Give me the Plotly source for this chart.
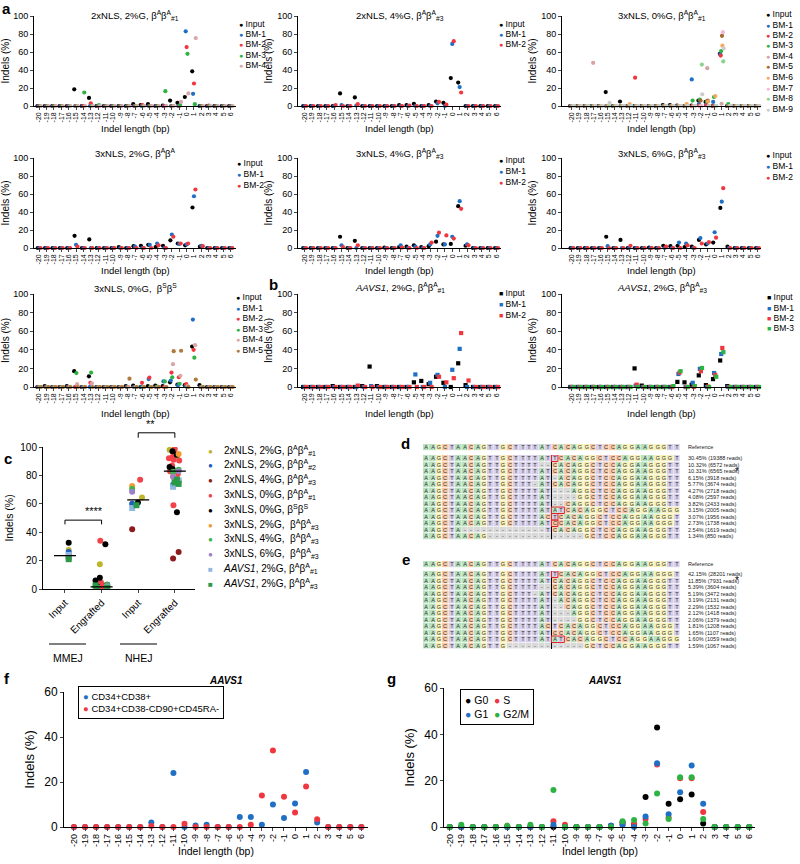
import plotly.graph_objects as go

W, H = 800, 864
FONT = "Liberation Sans, Arial, sans-serif"

INDEL = list(range(-20, 7))
INDEL_LABELS = [str(v) for v in INDEL]

# ---------------- panel a / b data (indel -20 ... 6) ----------------
A1_TITLE = "2xNLS, 2%G, β<sup>A</sup>β<sup>A</sup><sub>#1</sub>"
A1_NAMES = ["Input", "BM-1", "BM-2", "BM-3", "BM-4"]
A1_INPUT = [0,0,0,0,0,18.5,0,9,0,0,0,0,0,2,1,2,0,0.5,6,3.5,10,38.5,0,0,0,0,0]
A1_BM1 = [0,0,0,0,0,0,0,0,0,0,0,0,0,0,0,0,0,0,0,0,83,13.5,0,0,0,0,0]
A1_BM2 = [0,0,0,0,0,0,0,3,0,0,0,0,0,0,1,0,0,0,0,0,65.5,25,0,0.5,0,0,0]
A1_BM3 = [0,0,0,0,0,0,15,0,1,0,0,0,0,0,0,0,0,16.5,0,1,58,2,0,0,0,0,0]
A1_BM4 = [0,0,0,0,0,0,0,0,0,0,0,0,0,0,0,0,0,0,0,4.5,14,75.5,0,0,0,0,0]

A2_TITLE = "2xNLS, 4%G, β<sup>A</sup>β<sup>A</sup><sub>#3</sub>"
A2_NAMES = ["Input", "BM-1", "BM-2"]
A2_INPUT = [0,0,0,0,0,14,0,9.5,0,0,0,0,0,1,1,2.5,0,1,5,3.5,31,26,0,0,0,0,0]
A2_BM1 = [0,0,0,0,0,1,0,0.5,0,0,0,0,0,0,0,0,0,0,3,0,69,21,0,0,0,0,0]
A2_BM2 = [0,0,0,0,1,0,0,2,0,0,0,0,0,0,0.5,0,0,0,4.5,1.5,72,15,0,0,0,0,0]

A3_TITLE = "3xNLS, 0%G, β<sup>A</sup>β<sup>A</sup><sub>#1</sub>"
A3_NAMES = ["Input", "BM-1", "BM-2", "BM-3", "BM-4", "BM-5", "BM-6", "BM-7", "BM-8", "BM-9"]
A3_INPUT = [0,0,0,0,0,15.5,0,5,0,0,0,0,0,1,1,0.5,0,0.5,6,4.5,0,58,0,0,0,0,0]
A3_BM1 = [0,0,0,0,0,0,0,0,0,0,0,0,0,0,0,0,0,29.5,2,1,4.5,57.5,0,0,0,0,0]
A3_BM2 = [0,0,0,0,0,0,0,0,0,31.5,0,0,0,0,0,0,0,0,0.5,1,0,56,0,0,0,0,0]
A3_BM3 = [0,0,0,0,0,0,0,0,0,0,0,0,0,0,0,0,0,6,7,5,10,61,2,0,0,0,0]
A3_BM4 = [0,0,0,48,0,0,0,0,0,0,0,0,0,0,0,0,0,0,0,42,0,2.5,0,0,0,0,0]
A3_BM5 = [0,0,0,0,0,0,0,0,0,0,0,0,0,0,0,0,0,0,6,6,0,78,0,0,0,0,0]
A3_BM6 = [0,0,0,0,0,0,0,0,2,0,0,0,0,0,0,0,2,0,0,5,11,67,0,0,0,0,0]
A3_BM7 = [0,0,0,0,0,0,0,0,0,0,0,0,0,0,0,0,0,0,0,0,0,82,0,0,0,0,0]
A3_BM8 = [0,0,0,0,0,0,0,0,0,0,0,0,0,0,0,0,0,0,46,0,0,49.5,0,0,0,0,0]
A3_BM9 = [0,0,0,0,0,3.5,0,0,0,0,0,0,0,0,0,0,0,0,13,0,0,64,0,0,0,0,0]

A4_TITLE = "3xNLS, 2%G, β<sup>A</sup>β<sup>A</sup>"
A4_NAMES = ["Input", "BM-1", "BM-2"]
A4_INPUT = [0,0,0,0,0,13.5,0,9.5,0,0,0,1,0,2,2.5,3.5,1,2.5,8.5,5,3,45,1.5,0,0,0,0]
A4_BM1 = [0,0,0,0,0,3.5,0,0,0,0,0,0,0,1.5,0,3.5,5,0,15,4.5,4,57.5,2.5,0,0,0,0]
A4_BM2 = [0,0,0,0,0,1.5,0,0,0,0,0,0,0,0,0,0,3,0,12.5,5,5,65,2,0,0,0,0]

A5_TITLE = "3xNLS, 4%G, β<sup>A</sup>β<sup>A</sup><sub>#3</sub>"
A5_NAMES = ["Input", "BM-1", "BM-2"]
A5_INPUT = [0,0,0,0,0,12.5,0,8,0,0,0,0.5,0,1,1.5,3,1,2,7,4,4.5,46.5,2.5,0,0,0,0]
A5_BM1 = [0,0,0,0,0,3,0,0,0,0,0,0,0,3,0,1.5,0,4,13.5,4,12.5,52,4,0,0,0,0]
A5_BM2 = [0,0,0,0,0,1,0,3,0,0,0,0,0,0.5,0,0,0,6,17,14,10.5,43.5,3,0,0,0,0]

A6_TITLE = "3xNLS, 6%G, β<sup>A</sup>β<sup>A</sup><sub>#3</sub>"
A6_NAMES = ["Input", "BM-1", "BM-2"]
A6_INPUT = [0,0,0,0,0,12.5,0,9,0,0,0,0.5,0,2.5,2,2.5,1,1.5,9,4,6,44.5,1.5,0,0,0,0]
A6_BM1 = [0,0,0,0,0,2,0,0,0,0,0,0,0,0,0,6,5,0,11,5,17.5,51.5,0,0,0,0,0]
A6_BM2 = [0,0,0,0,0,0,0,0,2.5,0,0,0,0,1.5,0,0,3,0,5,6.5,11.5,66.5,0,0,0,0,0]

A7_TITLE = "3xNLS, 0%G,  β<sup>S</sup>β<sup>S</sup>"
A7_NAMES = ["Input", "BM-1", "BM-2", "BM-3", "BM-4", "BM-5"]
A7_INPUT = [0,1,0,0,1,17,0,11.5,0,0,0,0,1,1.5,0,1,1.5,1,5,2.5,2,43.5,2,0,0,0,0]
A7_BM1 = [0,0,0,0,0,0,0,0,0,0,0,0,0,0,0,8.5,0,6,7,2,1,72.5,0,0,0,0,0]
A7_BM2 = [0,0,0,0,0,0,0,4.5,0,0,0,0,0,0,4.5,10,0,0,15.5,10.5,3,40,0,0,0,0,0]
A7_BM3 = [0,0,0,0,0,15,0,15.5,0,0,0,0,0,0,0,0,0.5,6,10.5,3.5,0,31.5,0,0,0,0,0]
A7_BM4 = [0,0,0,0,0,3,0,4,0,0,0,0,0,0,0,0,0,0,24.5,12,1,45,0,0,0,0,0]
A7_BM5 = [0,0,0,0,0,0,0,0,0,0,0,0,9,0,0,0,0,0,38.5,39,0,8,0,0,0,0,0]

B1_TITLE = "<i>AAVS1</i>, 2%G, β<sup>A</sup>β<sup>A</sup><sub>#1</sub>"
B1_NAMES = ["Input", "BM-1", "BM-2"]
B1_INPUT = [0,0,0,0,1,0,0,0,1,22,1,0,0,0,0,5,6.5,3,11,4.5,0,25.5,2,0,0,0,0]
B1_BM1 = [0,0,0,0,0,0,0,0,0,1,0,0,0,0,0,13.5,0,4.5,13,0,18.5,41,0,0,0,0,0]
B1_BM2 = [0,0,0,0,0,0,0,1.5,0,0,0,0,0,0,0,0,0,0,11,5,9.5,58,7,0,0,0,0]

B2_TITLE = "<i>AAVS1</i>, 2%G, β<sup>A</sup>β<sup>A</sup><sub>#3</sub>"
B2_NAMES = ["Input", "BM-1", "BM-2", "BM-3"]
B2_INPUT = [0,0,0,0,0,0,0,0,0,20,1.5,0,0,0,0,5.5,5,2.5,12.5,2,8.5,28.5,1,0,0,0,0]
B2_BM1 = [0,0,0,0,0,0,0,0,0,1.5,0,0,0,0,0,14,0,4.5,19.5,0,15,35.5,0,0,0,0,0]
B2_BM2 = [0,0,0,0,0,0,0,0,0,2.5,0,0,0,0,0,15.5,0,0,17,0.5,13,42,0,0,0,0,0]
B2_BM3 = [0,0,0,0,0,0,0,0,0,0,0,0,0,0,1,17,0,1,20.5,0,11,37.5,0,0,0,0,0]

# ---------------- panel c data ----------------
C_CATS = ["Input", "Engrafted", "Input", "Engrafted"]
C_NAMES = ["2xNLS, 2%G, β<sup>A</sup>β<sup>A</sup><sub>#1</sub>",
           "2xNLS, 2%G, β<sup>A</sup>β<sup>A</sup><sub>#2</sub>",
           "2xNLS, 4%G, β<sup>A</sup>β<sup>A</sup><sub>#3</sub>",
           "3xNLS, 0%G, β<sup>A</sup>β<sup>A</sup><sub>#1</sub>",
           "3xNLS, 0%G, β<sup>S</sup>β<sup>S</sup>",
           "3xNLS, 2%G,  β<sup>A</sup>β<sup>A</sup><sub>#3</sub>",
           "3xNLS, 4%G,  β<sup>A</sup>β<sup>A</sup><sub>#3</sub>",
           "3xNLS, 6%G,  β<sup>A</sup>β<sup>A</sup><sub>#3</sub>",
           "<i>AAVS1</i>, 2%G, β<sup>A</sup>β<sup>A</sup><sub>#1</sub>",
           "<i>AAVS1</i>, 2%G, β<sup>A</sup>β<sup>A</sup><sub>#3</sub>"]
C_COLORS = ["#bdb62c", "#1f5fbf", "#8c1c1c", "#f2434a", "#000000",
            "#f39a35", "#3cb44b", "#9c80c8", "#91b7e3", "#2b9a48"]
C_SYMBOLS = ["circle"] * 8 + ["square", "square"]
# each: [MMEJ Input, MMEJ Engrafted, NHEJ Input, NHEJ Engrafted]
C_OLIVE = [[27.5], [17.5, 2, 1, 0.5], [64.5], [98, 96.5, 93.5, 78]]
C_BLUE = [[26], [1, 0.5], [60], [76, 73.5]]
C_DKRED = [[24], [2, 1], [42], [26, 21.5]]
C_RED = [[21.5], [34, 4.5, 3, 2, 1.5, 1, 0.5, 0.5, 2.5], [77], [98.5, 93, 92, 91, 90.5, 87, 83, 81, 59]]
C_BLACK = [[32.5], [31.5, 8, 6, 3, 2], [61], [97, 94.5, 86, 84.5, 54]]
C_ORANGE = [[23], [1.5, 0.5], [72.5], [95, 79.5]]
C_GREEN = [[22], [3, 1], [70.5], [84, 82.5]]
C_PURPLE = [[22.5], [1, 2], [68.5], [79, 83]]
C_LTBLUE = [[24], [0.5, 1.5], [57], [76.5, 72]]
C_GRSQ = [[21], [2.5, 1, 0.5], [59], [77, 74, 75]]

# ---------------- panel d / e data ----------------
NUC_REF = "AAGCTAACAGTTGCTTTTATCACAGGCTCCAGGAAGGGTT"
D_ROWS = ["AAGCTAACAGTTGCTTTTATTCACAGGCTCCAGGAAGGGT",
          "AAGCTAACAGTTGCTTTT--CACAGGCTCCAGGAAGGGTT",
          "AAGCTAACAGTTGCTTTTATCACAGGCTCCAGGAAGGGTT",
          "AAGCTAACAGTTGCTTTTAT-ACAGGCTCCAGGAAGGGTT",
          "AAGCTAACAGTTGCTTT-ATCACAGGCTCCAGGAAGGGTT",
          "AAGCTAACAGTTGCTTTTAT---AGGCTCCAGGAAGGGTT",
          "AAGCTAACAGTTGCTTTTAT----GGCTCCAGGAAGGGTT",
          "AAGCTAACAGTTGCTTTTAT--CAGGCTCCAGGAAGGGTT",
          "AAGCTAACAGTTGCTTTTATATCACAGGCTCCAGGAAGGG",
          "AAGCTAACAGTTGCTTTTACTCACAGGCTCCAGGAAGGGT",
          "AAGCTAACAGTTGCTTTTATCCACAGGCTCCAGGAAGGGT",
          "AAGCTA-------------TCACAGGCTCCAGGAAGGGTT",
          "AAGCTAACAG---------------GCTCCAGGAAGGGTT"]
D_LABELS = ["30.45% (19388 reads)", "10.32% (6572 reads)", "10.31% (6565 reads)",
            "6.15% (3918 reads)", "5.77% (3674 reads)", "4.27% (2718 reads)",
            "4.08% (2597 reads)", "3.82% (2433 reads)", "3.15% (2005 reads)",
            "3.07% (1956 reads)", "2.73% (1738 reads)", "2.54% (1619 reads)",
            "1.34% (850 reads)"]
E_ROWS = ["AAGCTAACAGTTGCTTTTATTCACAGGCTCCAGGAAGGGT",
          "AAGCTAACAGTTGCTTTTATCACAGGCTCCAGGAAGGGTT",
          "AAGCTAACAGTTGCTTTT--CACAGGCTCCAGGAAGGGTT",
          "AAGCTAACAGTTGCTTT-ATCACAGGCTCCAGGAAGGGTT",
          "AAGCTAACAGTTGCTTTTAT-ACAGGCTCCAGGAAGGGTT",
          "AAGCTAACAGTTGCTTTTAT--CAGGCTCCAGGAAGGGTT",
          "AAGCTAACAGTTGCTTTTAT---AGGCTCCAGGAAGGGTT",
          "AAGCTAACAGTTGCTTTTAT----GGCTCCAGGAAGGGTT",
          "AAGCTAACAGTTGCTTTTACTCACAGGCTCCAGGAAGGGT",
          "AAGCTAACAGTTGCTTTTATCCACAGGCTCCAGGAAGGGT",
          "AAGCTAACAGTTGCTTTTATATCACAGGCTCCAGGAAGGG",
          "AAGCTAACAGTTG------------GCTCCAGGAAGGGTT"]
E_LABELS = ["42.15% (28201 reads)", "11.85% (7931 reads)", "5.39% (3604 reads)",
            "5.19% (3472 reads)", "3.19% (2131 reads)", "2.29% (1532 reads)",
            "2.12% (1418 reads)", "2.06% (1379 reads)", "1.81% (1208 reads)",
            "1.65% (1107 reads)", "1.60% (1059 reads)", "1.59% (1067 reads)"]

# ---------------- panel f / g data ----------------
F_NAMES = ["CD34+CD38+", "CD34+CD38-CD90+CD45RA-"]
F_CD38P = [0,0,0,0,0,0,0,2,0,24,0,0.7,1,0,0,4.5,4.5,1,10,4,10.5,24.5,2,0,0,0,0]
F_HSC = [0,0,0,0,0,0,0,0.5,0,0,1.5,0,0,0,0,0,1,14,34,13.5,6.5,18,3.5,0,0,0,0]
G_NAMES = ["G0", "S", "G1", "G2/M"]
G_G0 = [0,0,0,0,0,0,0,0,0,0,0,0,0,0,0.5,2,1,13,43,10,12,14,1.5,0,0,0,0]
G_S = [0,0,0,0,0,0.5,0,0,0,2.5,1,0,0,0,0,1,1.5,3.5,27,4,21,21,6.5,0,0,0,0]
G_G1 = [0,0,0,0,0,0,0,0,0,1,0,0,0,0,0.5,1,0,4.5,27.5,5.5,15,26.5,10,0,0,0,0]
G_G2M = [0,1,0,0,0,0.5,0,1,0,16,0,0,0,0,0,2.5,3,1.5,14.5,3.5,21.5,21.5,3.5,0,0,0,0]

# ---------------- styling ----------------
BLACK, BLUE, RED, GREEN = "#000000", "#1f6fc5", "#f0373f", "#2db342"
PAL = [BLACK, BLUE, RED, GREEN, "#d4a3a3", "#a4692c", "#f8a65c", "#f5b8da", "#8fd28f", "#cccccc"]


def px_x(a, b):
    return [a / W, b / W]


def px_y(top, bottom):
    return [1 - bottom / H, 1 - top / H]


COLS = [(34, 236, [-20.7, 6.7]), (298, 501, [-20.9, 6.6]), (562, 761, [-21.4, 6.5])]
ROWS = [(16, 106), (158, 248), (294, 387)]
XTITLE_Y = [128, 270, 413]
TITLE_Y = [15, 153, 288]

PANELS = [
    (A1_TITLE, A1_NAMES, [A1_INPUT, A1_BM1, A1_BM2, A1_BM3, A1_BM4], "circle", 0, 0),
    (A2_TITLE, A2_NAMES, [A2_INPUT, A2_BM1, A2_BM2], "circle", 0, 1),
    (A3_TITLE, A3_NAMES, [A3_INPUT, A3_BM1, A3_BM2, A3_BM3, A3_BM4, A3_BM5, A3_BM6, A3_BM7, A3_BM8, A3_BM9], "circle", 0, 2),
    (A4_TITLE, A4_NAMES, [A4_INPUT, A4_BM1, A4_BM2], "circle", 1, 0),
    (A5_TITLE, A5_NAMES, [A5_INPUT, A5_BM1, A5_BM2], "circle", 1, 1),
    (A6_TITLE, A6_NAMES, [A6_INPUT, A6_BM1, A6_BM2], "circle", 1, 2),
    (A7_TITLE, A7_NAMES, [A7_INPUT, A7_BM1, A7_BM2, A7_BM3, A7_BM4, A7_BM5], "circle", 2, 0),
    (B1_TITLE, B1_NAMES, [B1_INPUT, B1_BM1, B1_BM2], "square", 2, 1),
    (B2_TITLE, B2_NAMES, [B2_INPUT, B2_BM1, B2_BM2, B2_BM3], "square", 2, 2),
]
A1_COLORS = [BLACK, BLUE, RED, GREEN, "#d9a9a9"]
A7_COLORS = [BLACK, BLUE, RED, GREEN, "#dba6a6", "#b07a3c"]
B2_COLORS = [BLACK, BLUE, RED, GREEN]

fig = go.Figure()
layout = {}
annotations = []
shapes = []


def sfx(i):
    return "" if i == 1 else str(i)


def base_axes(i, xdom, ydom, xrange_, yrange_, xfont=7, yfont=9, ytitle="Indels (%)", ytick=20,
              ytitlesize=10, ystand=2):
    s = sfx(i)
    layout["xaxis" + s] = dict(domain=xdom, range=xrange_, anchor="y" + s, tickmode="array",
                               tickvals=INDEL, ticktext=INDEL_LABELS, tickangle=-90,
                               tickfont=dict(size=xfont, color="black"), ticks="outside", ticklen=2.5,
                               tickwidth=0.8, showline=True, linecolor="black", linewidth=1,
                               showgrid=False, zeroline=False, automargin=False)
    layout["yaxis" + s] = dict(domain=ydom, range=yrange_, anchor="x" + s, dtick=ytick,
                               tickfont=dict(size=yfont, color="black"), ticks="outside", ticklen=3,
                               tickwidth=0.8, showline=True, linecolor="black", linewidth=1,
                               showgrid=False, zeroline=False, automargin=False,
                               title=dict(text=ytitle, font=dict(size=ytitlesize), standoff=ystand))


def text_ann(xpx, ypx, text, size, xanchor="center", **kw):
    annotations.append(dict(x=xpx / W, y=1 - ypx / H, xref="paper", yref="paper", showarrow=False,
                            xanchor=xanchor, yanchor="middle", text=text,
                            font=dict(size=size, color="black"), **kw))


def legend_entry(xpx, ypx, color, label, sym="●", size=8.5, symsize=None):
    ss = f";font-size:{symsize}px" if symsize else ""
    text_ann(xpx, ypx, f"<span style='color:{color}{ss}'>{sym}</span> {label}", size, xanchor="left")


LEG_POS = {0: (237, 24, 10.2), 1: (497, 24, 10.2), 2: (764, 14, 10.5),
           3: (235, 163, 11), 4: (497, 160, 11), 5: (764, 155, 11),
           6: (234, 297, 10.6), 7: (497, 293, 11), 8: (765, 297, 10.5)}

for pi, (title, names, series, sym, r, c) in enumerate(PANELS):
    i = pi + 1
    s = sfx(i)
    x0, x1, xr = COLS[c]
    y0, y1 = ROWS[r]
    base_axes(i, px_x(x0, x1), px_y(y0, y1), xr, [0, 100])
    if pi == 0:
        colors = A1_COLORS
    elif pi == 6:
        colors = A7_COLORS
    elif pi == 8:
        colors = B2_COLORS
    else:
        colors = PAL
    for k, (nm, ys) in enumerate(zip(names, series)):
        fig.add_trace(go.Scatter(x=INDEL, y=ys, mode="markers", name=nm, showlegend=False,
                                 marker=dict(color=colors[k], size=4.2, symbol=sym, line=dict(width=0)),
                                 cliponaxis=False, xaxis="x" + s, yaxis="y" + s))
    lx, ly, step = LEG_POS[pi]
    for k, nm in enumerate(names):
        legend_entry(lx, ly + k * step, colors[k], nm, "■" if sym == "square" else "●", size=8.5,
                     symsize=7)
    text_ann((x0 + x1) / 2, TITLE_Y[r], title, 9.5)
    text_ann((x0 + x1) / 2, XTITLE_Y[r], "Indel length (bp)", 9.5)

# ---------------- panel c ----------------
C_SERIES = [C_OLIVE, C_BLUE, C_DKRED, C_RED, C_BLACK, C_ORANGE, C_GREEN, C_PURPLE, C_LTBLUE, C_GRSQ]
CX_RANGE = [-0.6, 3.55]
layout["xaxis10"] = dict(domain=px_x(43, 195), range=CX_RANGE, anchor="y10", tickmode="array",
                         tickvals=list(range(len(C_CATS))), ticktext=C_CATS, tickangle=-45,
                         tickfont=dict(size=10, color="black"), ticks="outside", ticklen=3,
                         showline=True, linecolor="black", linewidth=1, showgrid=False, zeroline=False,
                         automargin=False)
layout["yaxis10"] = dict(domain=px_y(447, 589), range=[0, 100], anchor="x10", dtick=20,
                         tickfont=dict(size=10, color="black"), ticks="outside", ticklen=3,
                         showline=True, linecolor="black", linewidth=1, showgrid=False, zeroline=False,
                         automargin=False, title=dict(text="Indels (%)", font=dict(size=10.5), standoff=4))
for k, groups in enumerate(C_SERIES):
    xs, ys = [], []
    for gi, vals in enumerate(groups):
        xs += [gi] * len(vals)
        ys += vals
    fig.add_trace(go.Box(x=xs, y=ys, boxpoints="all", jitter=0.8, pointpos=0,
                         fillcolor="rgba(0,0,0,0)", line=dict(color="rgba(0,0,0,0)", width=0),
                         whiskerwidth=0, marker=dict(color=C_COLORS[k], size=6, symbol=C_SYMBOLS[k]),
                         showlegend=False, xaxis="x10", yaxis="y10"))
for gi in range(len(C_CATS)):
    allv = sorted(v for g in C_SERIES for v in g[gi])
    n = len(allv)
    med = allv[n // 2] if n % 2 else (allv[n // 2 - 1] + allv[n // 2]) / 2
    shapes.append(dict(type="line", xref="x10", yref="y10", x0=gi - 0.3, x1=gi + 0.3, y0=med, y1=med,
                       line=dict(color="black", width=1.3), layer="above"))


def cdx(v):
    return (v - CX_RANGE[0]) / (CX_RANGE[1] - CX_RANGE[0])


for (a, b, ytop, ybot, lab) in [(0, 1, 48.5, 45.5, "****"), (2, 3, 110, 106.5, "**")]:
    for (xa, ya, xb, yb) in [(a, ybot, a, ytop), (a, ytop, b, ytop), (b, ytop, b, ybot)]:
        shapes.append(dict(type="line", xref="x10 domain", yref="y10 domain", x0=cdx(xa), x1=cdx(xb),
                           y0=ya / 100, y1=yb / 100, line=dict(color="black", width=1)))
    annotations.append(dict(x=cdx((a + b) / 2), y=(ytop + 0.5) / 100, xref="x10 domain",
                            yref="y10 domain", showarrow=False, yanchor="bottom", text=lab,
                            font=dict(size=11, color="black")))
for (xa, xb, lab) in [(49, 86, "MMEJ"), (120, 157, "NHEJ")]:
    shapes.append(dict(type="line", xref="paper", yref="paper", x0=xa / W, x1=xb / W,
                       y0=1 - 644 / H, y1=1 - 644 / H, line=dict(color="black", width=1)))
    text_ann((xa + xb) / 2, 658, lab, 10.5)
for k, nm in enumerate(C_NAMES):
    legend_entry(206, 450 + k * 14.8, C_COLORS[k], "&nbsp;&nbsp; " + nm,
                 "■" if C_SYMBOLS[k] == "square" else "●", size=10, symsize=8)

# ---------------- panels d / e ----------------
NUC_CODE = {"A": 0, "C": 1, "G": 2, "T": 3, "-": 4}
NUC_COLORS = ["#b8e2bd", "#f8caa9", "#f6f0b8", "#d6cfea", "#d9d9d9"]
cs = []
for k, col in enumerate(NUC_COLORS):
    cs.append([k / len(NUC_COLORS), col])
    cs.append([(k + 1) / len(NUC_COLORS), col])


def seq_heatmap(axis_i, rows, xdom, ydom):
    s = sfx(axis_i)
    z = [[NUC_CODE[ch] for ch in r] for r in rows]
    txt = [[ch for ch in r] for r in rows]
    fig.add_trace(go.Heatmap(z=z, text=txt, texttemplate="%{text}", textfont=dict(size=5.5, color="#333"),
                             colorscale=cs, zmin=-0.5, zmax=len(NUC_COLORS) - 0.5, showscale=False,
                             xgap=0.4, ygap=0.6, hoverinfo="skip", xaxis="x" + s, yaxis="y" + s))
    layout["xaxis" + s] = dict(domain=xdom, range=[-0.5, len(rows[0]) - 0.5], anchor="y" + s,
                               visible=False)
    layout["yaxis" + s] = dict(domain=ydom, range=[len(rows) - 0.5, -0.5], anchor="x" + s,
                               visible=False)


SEQ_X = px_x(423, 680)
seq_heatmap(11, [NUC_REF], SEQ_X, px_y(444, 450.5))
seq_heatmap(12, D_ROWS, SEQ_X, px_y(455, 539.5))
seq_heatmap(13, [NUC_REF], SEQ_X, px_y(561, 567.5))
seq_heatmap(14, E_ROWS, SEQ_X, px_y(571, 649))

for (ax, labels, star) in [("12", D_LABELS, 2), ("14", E_LABELS, 1)]:
    for k, lab in enumerate(labels):
        annotations.append(dict(x=686 / W, y=k, xref="paper", yref="y" + ax, showarrow=False,
                                xanchor="left", yanchor="middle", text=lab,
                                font=dict(size=5.5, color="#222")))
    annotations.append(dict(x=741 / W, y=star, xref="paper", yref="y" + ax, showarrow=False,
                            text="*", font=dict(size=10, color="black")))
    shapes.append(dict(type="line", xref="x" + ax, yref="y" + ax, x0=19.5, x1=19.5, y0=-0.5,
                       y1=len(labels) - 0.5, line=dict(color="black", width=1)))
for ax in ("11", "13"):
    annotations.append(dict(x=686 / W, y=0, xref="paper", yref="y" + ax, showarrow=False,
                            xanchor="left", yanchor="middle", text="Reference",
                            font=dict(size=5.5, color="#222")))
for (ax, row, c0, c1) in [("12", 0, 20, 20), ("12", 8, 20, 21), ("12", 9, 20, 20), ("12", 10, 20, 20),
                          ("14", 0, 20, 20), ("14", 10, 20, 21)]:
    shapes.append(dict(type="rect", xref="x" + ax, yref="y" + ax, x0=c0 - 0.5, x1=c1 + 0.5,
                       y0=row - 0.5, y1=row + 0.5, line=dict(color="#e0262b", width=1)))

# ---------------- panels f / g ----------------
base_axes(15, px_x(64, 368), px_y(692, 827), [-20.9, 6.6], [0, 60], xfont=9, yfont=12,
          ytitlesize=13, ystand=6)
base_axes(16, px_x(444, 755), px_y(688, 827), [-20.5, 6.5], [0, 60], xfont=9, yfont=12,
          ytitlesize=13, ystand=6)
text_ann(216, 851, "Indel length (bp)", 10.5)
text_ann(600, 851, "Indel length (bp)", 10.5)
for nm, ys, col in zip(F_NAMES, [F_CD38P, F_HSC], [BLUE, RED]):
    fig.add_trace(go.Scatter(x=INDEL, y=ys, mode="markers", name=nm, showlegend=False, offsetgroup="f",
                             marker=dict(color=col, size=6), cliponaxis=False, xaxis="x15", yaxis="y15"))
for nm, ys, col in zip(G_NAMES, [G_G0, G_S, G_G1, G_G2M], [BLACK, RED, BLUE, GREEN]):
    fig.add_trace(go.Scatter(x=INDEL, y=ys, mode="markers", name=nm, showlegend=False, offsetgroup="g",
                             marker=dict(color=col, size=6), cliponaxis=False, xaxis="x16", yaxis="y16"))

annotations.append(dict(x=78 / W, y=1 - 686 / H, xref="paper", yref="paper", showarrow=False,
                        xanchor="left", yanchor="top", align="left", bordercolor="black", borderwidth=1,
                        borderpad=4, font=dict(size=9.5, color="black"),
                        text=f"<span style='color:{BLUE}'>●</span> {F_NAMES[0]}<br>"
                             f"<span style='color:{RED}'>●</span> {F_NAMES[1]}"))
annotations.append(dict(x=460 / W, y=1 - 689 / H, xref="paper", yref="paper", showarrow=False,
                        xanchor="left", yanchor="top", align="left", bordercolor="black", borderwidth=1,
                        borderpad=4, font=dict(size=10.5, color="black"),
                        text=f"<span style='color:{BLACK}'>●</span> {G_NAMES[0]}  "
                             f"<span style='color:{RED}'>●</span> {G_NAMES[1]}<br>"
                             f"<span style='color:{BLUE}'>●</span> {G_NAMES[2]}  "
                             f"<span style='color:{GREEN}'>●</span> {G_NAMES[3]}"))
for xpx in (226, 605):
    text_ann(xpx, 680, "<b><i>AAVS1</i></b>", 10)

# ---------------- panel letters ----------------
for lab, xpx, ypx in [("a", 6, 9), ("b", 273, 284), ("c", 8, 458), ("d", 406, 444), ("e", 406, 559),
                      ("f", 7, 678), ("g", 391, 678)]:
    text_ann(xpx, ypx, f"<b>{lab}</b>", 15)

layout.update(dict(template="none", width=W, height=H, margin=dict(l=0, r=0, t=0, b=0, autoexpand=False),
                   plot_bgcolor="white", paper_bgcolor="white", font=dict(family=FONT, color="black"),
                   showlegend=False, scattermode="group", scattergap=0.4, boxmode="overlay",
                   annotations=annotations, shapes=shapes))
fig.update_layout(**layout)
fig.write_html("out.html", config={"displayModeBar": False},
               post_script="document.body.style.margin='0';document.body.style.overflow='hidden';")
